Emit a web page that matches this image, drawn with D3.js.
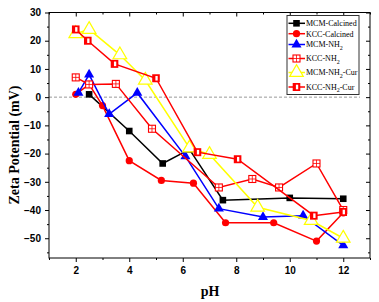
<!DOCTYPE html>
<html>
<head>
<meta charset="utf-8">
<script src="https://cdn.jsdelivr.net/npm/d3@7"></script>
<style>
  body { margin: 0; background: #fff; }
  svg { display: block; }
</style>
</head>
<body>
<script>
// series values [pH, zeta]
var mcmCalcined = [[2.5, 1], [4, -12], [5.25, -23.5], [6.25, -18.5], [7.5, -36.5], [10, -35.7], [12, -36]];
var kccCalcined = [[2, 1], [2.5, 4.5], [3, -3], [4, -22.5], [5.2, -29.5], [6.4, -30.5], [7.6, -44.5], [9.4, -44.5], [11, -51], [12, -41]];
var mcmNH2 = [[2.1, 1.5], [2.5, 8], [3.25, -6], [4.3, 1.5], [6.1, -21], [7.35, -39.5], [9, -42.5], [10.5, -42], [12, -52.5]];
var kccNH2 = [[2, 7], [2.5, 4.5], [3.5, 4.7], [4.85, -11.2], [7.35, -32], [8.6, -29], [9.6, -32], [11, -23.5], [12, -40]];
var mcmNH2Cur = [[2, 22.5], [2.5, 24], [3.65, 15], [4.6, 6], [6.25, -18], [7, -20.3], [8.8, -39], [10.8, -43.7], [12, -50]];
var kccNH2Cur = [[2, 24], [2.45, 20], [3.45, 11.8], [5, 6.7], [6.55, -19.5], [8.05, -22], [10.9, -42], [12, -40.7]];

var xTicks = [2, 4, 6, 8, 10, 12];
var xMinor = [1, 3, 5, 7, 9, 11, 13];
var yTicks = [30, 20, 10, 0, -10, -20, -30, -40, -50];
var yMinor = [25, 15, 5, -5, -15, -25, -35, -45, -55];

var seriesNames = ["MCM-Calcined", "KCC-Calcined", "MCM-NH2", "KCC-NH2", "MCM-NH2-Cur", "KCC-NH2-Cur"];

var width = 379, height = 302;
var pLeft = 49, pRight = 370, pTop = 12.5, pBottom = 258;

var svg = d3.select("body").append("svg")
    .attr("width", width)
    .attr("height", height);

var x = d3.scaleLinear().domain([1, 13]).range([pLeft, pRight]);
var y = d3.scaleLinear().domain([-57, 30]).range([pBottom, pTop]);

// zero reference line
svg.append("line")
    .attr("x1", pLeft).attr("x2", 360)
    .attr("y1", y(0)).attr("y2", y(0))
    .attr("stroke", "#999").attr("stroke-width", 1)
    .attr("stroke-dasharray", "3,2");

function axisStyle(g) {
    g.select(".domain").remove();
    g.selectAll("line").attr("stroke", "#000");
    g.selectAll("text")
        .attr("font-family", "'Liberation Sans', Arial, sans-serif")
        .attr("font-weight", "bold")
        .attr("font-size", "10px")
        .attr("fill", "#000");
}

// bottom / left with labels
svg.append("g").attr("transform", "translate(0," + pBottom + ")")
    .call(d3.axisBottom(x).tickValues(xTicks).tickSize(4).tickPadding(5).tickFormat(d3.format("d")))
    .call(axisStyle);
svg.append("g").attr("transform", "translate(0," + pBottom + ")")
    .call(d3.axisBottom(x).tickValues(xMinor).tickSize(2).tickFormat(""))
    .call(axisStyle);
svg.append("g").attr("transform", "translate(" + pLeft + ",0)")
    .call(d3.axisLeft(y).tickValues(yTicks).tickSize(4).tickPadding(4).tickFormat(d3.format("d")))
    .call(axisStyle);
svg.append("g").attr("transform", "translate(" + pLeft + ",0)")
    .call(d3.axisLeft(y).tickValues(yMinor).tickSize(2).tickFormat(""))
    .call(axisStyle);

// mirrored top / right, ticks inward
svg.append("g").attr("transform", "translate(0," + pTop + ")")
    .call(d3.axisBottom(x).tickValues(xTicks).tickSize(4).tickFormat(""))
    .call(axisStyle);
svg.append("g").attr("transform", "translate(0," + pTop + ")")
    .call(d3.axisBottom(x).tickValues(xMinor).tickSize(2).tickFormat(""))
    .call(axisStyle);
svg.append("g").attr("transform", "translate(" + pRight + ",0)")
    .call(d3.axisLeft(y).tickValues(yTicks).tickSize(4).tickFormat(""))
    .call(axisStyle);
svg.append("g").attr("transform", "translate(" + pRight + ",0)")
    .call(d3.axisLeft(y).tickValues(yMinor).tickSize(2).tickFormat(""))
    .call(axisStyle);

svg.append("rect")
    .attr("x", pLeft).attr("y", pTop)
    .attr("width", pRight - pLeft).attr("height", pBottom - pTop)
    .attr("fill", "none").attr("stroke", "#000").attr("stroke-width", 1);

// marker painters
function mSquare(g, color) {
    g.append("rect").attr("x", -3.3).attr("y", -3.3).attr("width", 6.6).attr("height", 6.6).attr("fill", color);
}
function mCircle(g, color) {
    g.append("circle").attr("r", 3.6).attr("fill", color);
}
function mTriangle(g, color) {
    g.append("path").attr("d", d3.symbol(d3.symbolTriangle, 44)()).attr("fill", color);
}
function mCrossSquare(g, color) {
    g.append("rect").attr("x", -3.5).attr("y", -3.5).attr("width", 7).attr("height", 7)
        .attr("fill", "#fff").attr("stroke", color).attr("stroke-width", 1.1);
    g.append("path").attr("d", "M-3.5,0H3.5M0,-3.5V3.5").attr("stroke", color).attr("stroke-width", 0.8);
}
function mOpenTriangle(g, color) {
    g.append("path").attr("d", d3.symbol(d3.symbolTriangle, 80)()).attr("fill", "#fff")
        .attr("stroke", color).attr("stroke-width", 1.2);
}
function mHalfSquare(g, color) {
    g.append("rect").attr("x", -3.8).attr("y", -4).attr("width", 7.6).attr("height", 8).attr("fill", color);
    g.append("rect").attr("x", -0.6).attr("y", -2.3).attr("width", 2.3).attr("height", 4.6).attr("fill", "#fff");
}

var series = [
    { data: mcmCalcined, color: "#000000", marker: mSquare },
    { data: kccCalcined, color: "#ff0000", marker: mCircle },
    { data: mcmNH2, color: "#0000ff", marker: mTriangle },
    { data: kccNH2, color: "#ff0000", marker: mCrossSquare },
    { data: mcmNH2Cur, color: "#ffff00", marker: mOpenTriangle },
    { data: kccNH2Cur, color: "#ff0000", marker: mHalfSquare }
];

var line = d3.line().x(function (d) { return x(d[0]); }).y(function (d) { return y(d[1]); });

series.forEach(function (s) {
    var g = svg.append("g");
    g.append("path")
        .attr("d", line(s.data))
        .attr("fill", "none")
        .attr("stroke", s.color)
        .attr("stroke-width", 1.5);
    s.data.forEach(function (d) {
        var m = g.append("g").attr("transform", "translate(" + x(d[0]) + "," + y(d[1]) + ")");
        s.marker(m, s.color);
    });
});

// legend
var lg = svg.append("g");
lg.append("rect")
    .attr("x", 287).attr("y", 15.5).attr("width", 72).attr("height", 79)
    .attr("fill", "#fff").attr("stroke", "#333").attr("stroke-width", 1);
var rowY = [23.3, 33.7, 44.5, 58.5, 72.5, 87];
series.forEach(function (s, i) {
    var ry = rowY[i];
    lg.append("line").attr("x1", 288.5).attr("x2", 305).attr("y1", ry).attr("y2", ry)
        .attr("stroke", s.color).attr("stroke-width", 1.5);
    s.marker(lg.append("g").attr("transform", "translate(296.5," + ry + ")"), s.color);
    var t = lg.append("text")
        .attr("x", 306).attr("y", ry + 2.8)
        .attr("font-family", "'Liberation Serif', 'Times New Roman', serif")
        .attr("font-size", "8px")
        .attr("fill", "#000");
    var name = seriesNames[i];
    var k = name.indexOf("NH2");
    if (k < 0) {
        t.text(name);
    } else {
        t.append("tspan").text(name.slice(0, k + 2));
        t.append("tspan").attr("dy", 2.5).attr("font-size", "6px").text("2");
        var rest = name.slice(k + 3);
        if (rest) t.append("tspan").attr("dy", -2.5).text(rest);
    }
});

// axis titles
svg.append("text")
    .attr("x", 210).attr("y", 296)
    .attr("text-anchor", "middle")
    .attr("font-family", "'Liberation Serif', 'Times New Roman', serif")
    .attr("font-weight", "bold")
    .attr("font-size", "14px")
    .text("pH");

svg.append("text")
    .attr("transform", "translate(19,145) rotate(-90)")
    .attr("text-anchor", "middle")
    .attr("font-family", "'Liberation Serif', 'Times New Roman', serif")
    .attr("font-weight", "bold")
    .attr("font-size", "14px")
    .text("Zeta Potential (mV)");
</script>
</body>
</html>
